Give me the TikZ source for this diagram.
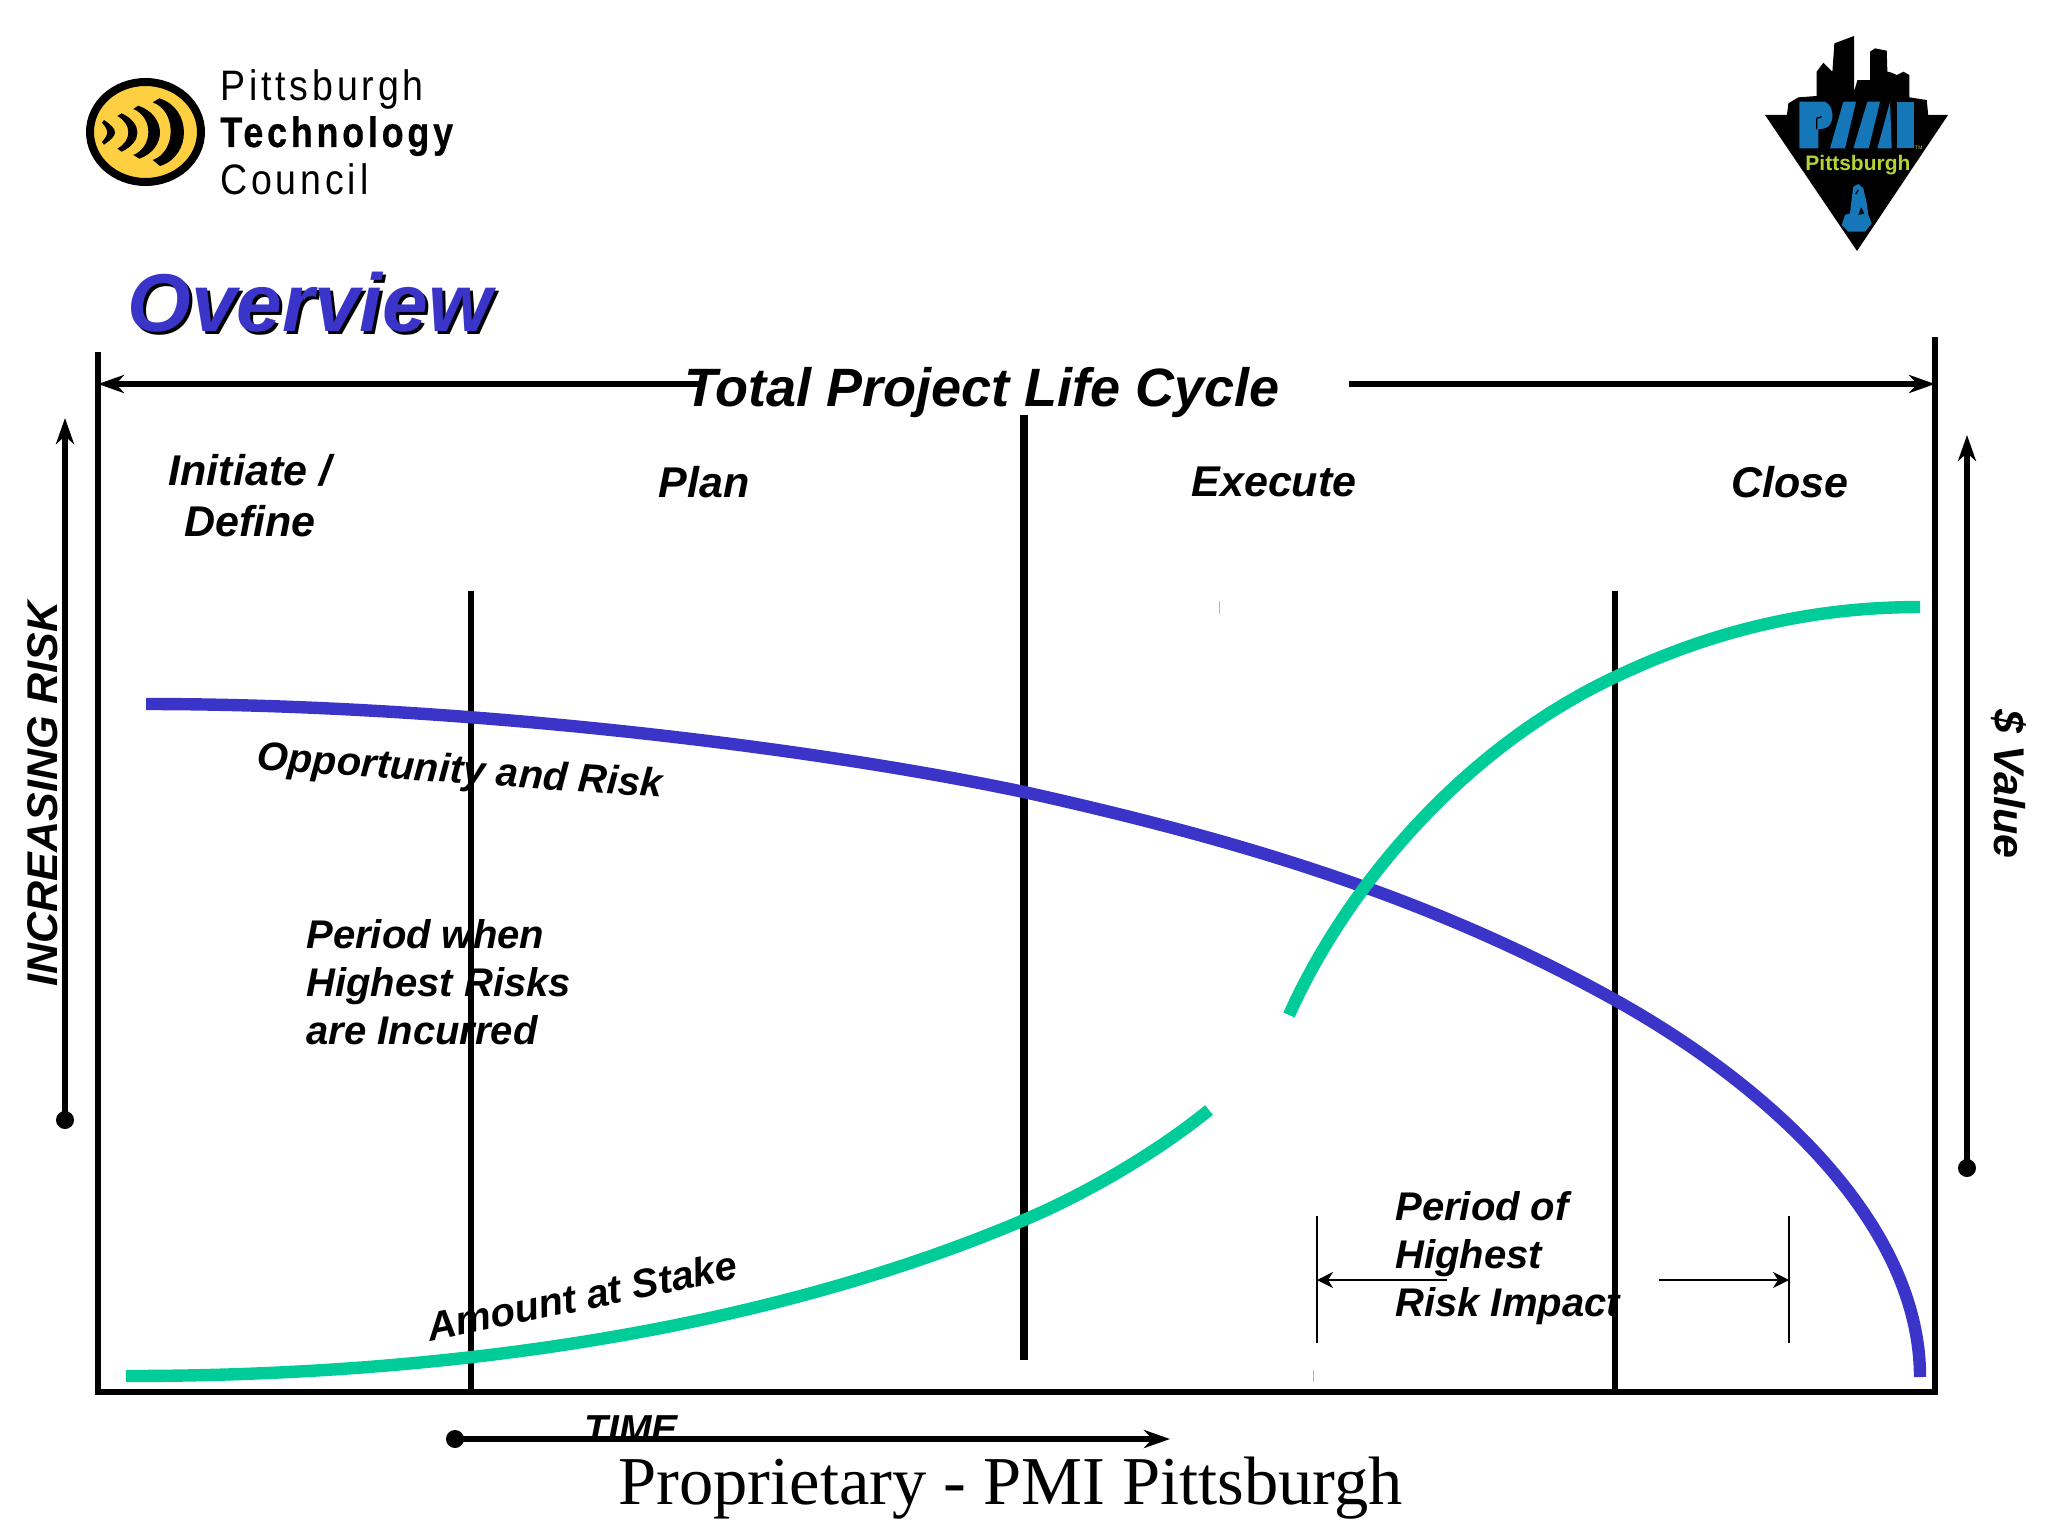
\documentclass[tikz,border=0pt]{standalone}
\usepackage{fontspec}
\usetikzlibrary{arrows.meta}
\setmainfont{Liberation Sans}
\newfontfamily\propfont{Liberation Serif}
\newfontfamily\ptcfont[FakeStretch=0.88,LetterSpace=9]{Liberation Sans}
\newfontfamily\ptcboldfont[FakeStretch=0.84,LetterSpace=9,FakeBold=0.6]{Liberation Sans Bold}
\definecolor{riskblue}{HTML}{3A35C8}
\definecolor{stakegreen}{HTML}{00CC99}
\definecolor{logoyellow}{HTML}{FDCF41}
\definecolor{pmiblue}{HTML}{1577B8}
\definecolor{pmilime}{HTML}{B5D334}
\tikzset{
	lbl/.style={font=\bfseries\itshape\fontsize{20}{24}\selectfont, inner sep=0pt, align=left},
	phase/.style={font=\bfseries\itshape\fontsize{21.5}{25.5}\selectfont, inner sep=0pt, align=center},
	ptc/.style={inner sep=0pt, anchor=base west},
	divider/.style={line width=3pt},
	curve/.style={line width=6.2pt, line join=round},
	tip/.style={line width=2.8pt, -{Stealth[length=13pt,width=9pt,inset=4pt]}},
	dimtip/.style={line width=1.25pt, -{Stealth[length=8pt,width=8pt,inset=2.5pt]}},
	speck/.style={line width=.5pt, stakegreen!60}
}
\begin{document}
\begin{tikzpicture}[x=0.5pt, y=-0.5pt]
		\useasboundingbox (0,0) rectangle (2048,1536);
		% frame
		\coordinate (FL) at (98,352);
		\coordinate (BL) at (98,1392);
		\coordinate (BR) at (1935,1392);
		\coordinate (FR) at (1935,337);
		\draw[line width=3.2pt] (FL) -- (BL) -- (BR) -- (FR);
		% phase dividers
		\coordinate (D1a) at (471,591);
		\coordinate (D1b) at (471,1392);
		\coordinate (D2a) at (1024,415);
		\coordinate (D2b) at (1024,1360);
		\coordinate (D3a) at (1615,591);
		\coordinate (D3b) at (1615,1392);
		\draw[divider] (D1a) -- (D1b);
		\draw[line width=4pt] (D2a) -- (D2b);
		\draw[divider] (D3a) -- (D3b);
		% curves
		\draw[curve, riskblue] (146,704) .. controls (450,704) and (800,745) .. (1024,792) .. controls (1240,840) and (1430,897) .. (1615,1000) .. controls (1780,1092) and (1920,1230) .. (1920,1377);
		\draw[curve, stakegreen] (126,1376) .. controls (500,1376) and (800,1315) .. (1024,1220) .. controls (1090,1192) and (1160,1150) .. (1209,1110);
		\draw[curve, stakegreen] (1289,1015) .. controls (1345,890) and (1460,750) .. (1615,677) .. controls (1720,627) and (1820,607) .. (1920,607);
		% life cycle arrow
		\coordinate (LCa) at (705,384);
		\coordinate (LCb) at (1349,384);
		\draw[tip] (LCa) -- (FL |- LCa);
		\draw[tip] (LCb) -- (FR |- LCb);
		\node[phase, anchor=base west, font=\bfseries\itshape\fontsize{27}{30}\selectfont] (lifecycle) at (684,406) {Total Project Life Cycle};
		% axes
		\coordinate (Ra) at (65,1120);
		\coordinate (Rb) at (65,418);
		\coordinate (Va) at (1967,1168);
		\coordinate (Vb) at (1967,435);
		\coordinate (Ta) at (455,1439);
		\coordinate (Tb) at (1170,1439);
		\foreach \a/\b in {Ra/Rb, Va/Vb, Ta/Tb} {
			\draw[tip] (\a) -- (\b);
			\fill (\a) circle (4.5pt);
		}
		\node[phase, rotate=90] (risk) at (43,794) {INCREASING RISK};
		\node[phase, rotate=-90] (dollar) at (2009,784) {\$ Value};
		\node[phase, anchor=base west, font=\bfseries\itshape\fontsize{19.5}{24}\selectfont] (time) at (584,1442) {TIME};
		% phases
		\node[phase] (initiate) at (250,496) {Initiate /\\Define};
		\node[phase] (plan) at (704,482) {Plan};
		\node[phase] (execute) at (1274,482) {Execute};
		\node[phase] (close) at (1790,482) {Close};
		% curve labels
		\node[lbl, rotate=-4] (opportunity) at (460,773) {Opportunity and Risk};
		\node[lbl, rotate=11.6] (stake) at (582,1296) {Amount at Stake};
		\node[lbl, anchor=north west] (incurred) at (306,919) {Period when\\Highest Risks\\are Incurred};
		\node[lbl, anchor=north west] (impact) at (1395,1191) {Period of\\Highest\\Risk Impact};
		% period of impact
		\coordinate (Pa) at (1317,1216);
		\coordinate (Pb) at (1317,1343);
		\coordinate (Qa) at (1789,1216);
		\coordinate (Qb) at (1789,1343);
		\coordinate (Pc) at (1447,1280);
		\coordinate (Qc) at (1659,1280);
		\draw[line width=1.3pt] (Pa) -- (Pb);
		\draw[line width=1.3pt] (Qa) -- (Qb);
		\draw[dimtip] (Pc) -- (Pa |- Pc);
		\draw[dimtip] (Qc) -- (Qa |- Qc);
		% specks
		\draw[speck] (1219,601) -- (1219,614);
		\draw[speck] (1313,1370) -- (1313,1382);
		% footer
		\node[inner sep=0pt, anchor=base west, font=\propfont\fontsize{34.25}{40}\selectfont] (proprietary) at (618,1504) {Proprietary - PMI Pittsburgh};
		% heading
		\node[inner sep=0pt, anchor=base west, font=\bfseries\itshape\fontsize{41}{48}\selectfont] (overviewback) at (130,334) {Overview};
		\node[inner sep=0pt, anchor=base west, font=\bfseries\itshape\fontsize{41}{48}\selectfont, riskblue] (overview) at (127,331) {Overview};
		% technology council logo
		\draw[line width=4pt, fill=logoyellow] (145.5,132) ellipse (55.5 and 50);
		\begin{scope}[shift={(80,70)}, x=0.1667pt, y=-0.1667pt]
			\foreach \xa/\ya/\xb/\yb/\xo/\xc/\yc/\xd/\yd/\xi in {
				72/150/72/224/116/66/216/66/158/87,
				125/130/125/245/188/112/236/112/138/156,
				175/107/178/266/261/160/255/160/117/220,
				238/85/240/288/336/218/270/218/97/290} {
				\fill (\xa,\ya) .. controls (\xo,\ya+30) and (\xo,\yb-30) .. (\xb,\yb) -- (\xc,\yc) .. controls (\xi,\yc-25) and (\xi,\yd+25) .. (\xd,\yd) -- cycle;
			}
		\end{scope}
		\node[ptc, font=\ptcfont\fontsize{21.3}{25}\selectfont] (ptca) at (220,100) {Pittsburgh};
		\node[ptc, font=\ptcboldfont\fontsize{21.3}{25}\selectfont] (ptcb) at (220,147) {Technology};
		\node[ptc, font=\ptcfont\fontsize{21.3}{25}\selectfont] (ptcc) at (220,194) {Council};
		% pmi logo
		\fill (1765,115) -- (1948,115) -- (1857,251) -- cycle;
		\begin{scope}[shift={(1740,20)}, x=0.1667pt, y=-0.1667pt]
			\fill (140,290) -- (145,250) -- (175,232) -- (230,228) -- (230,155) -- (250,128) -- (277,155) -- (283,70) -- (342,48) -- (342,215) -- (352,180) -- (390,180) -- (390,95) -- (405,85) -- (440,92) -- (442,155) -- (455,158) -- (470,165) -- (490,155) -- (508,165) -- (508,232) -- (560,240) -- (565,290) -- cycle;
		\end{scope}
		\begin{scope}[shift={(1790,90)}, x=0.1667pt, y=-0.1667pt, pmiblue]
			\fill (28,35) -- (105,35) .. controls (135,50) and (135,105) .. (105,115) -- (85,118) -- (85,175) -- (28,175) -- cycle;
			\fill (120,175) -- (160,35) -- (198,35) -- (165,175) -- cycle;
			\fill (190,175) -- (232,35) -- (270,35) -- (236,175) -- cycle;
			\fill (262,175) -- (300,35) -- (305,175) -- cycle;
			\fill (320,35) -- (372,35) -- (372,175) -- (320,175) -- cycle;
			\draw[black, line width=.7pt] (80,118) -- (80,85) -- (95,80);
		\end{scope}
		\node[inner sep=0pt, anchor=base west, pmilime, font=\bfseries\fontsize{10.5}{12}\selectfont] (pmicity) at (1805,170) {Pittsburgh};
		\node[inner sep=0pt, pmilime, font=\fontsize{2.5}{3}\selectfont] (pmitm) at (1919,148) {TM};
		\begin{scope}[shift={(1825,170)}, x=0.1667pt, y=-0.1667pt]
			\fill[pmiblue] (50,165) -- (60,135) -- (75,130) -- (80,85) -- (85,50) -- (100,42) -- (115,55) -- (125,100) -- (130,135) -- (140,160) -- (120,185) -- (70,185) -- cycle;
			\draw[line width=.6pt] (92,72) -- (100,60);
			\fill (100,135) -- (108,112) -- (118,130) -- cycle;
		\end{scope}
		\end{tikzpicture}
\end{document}
